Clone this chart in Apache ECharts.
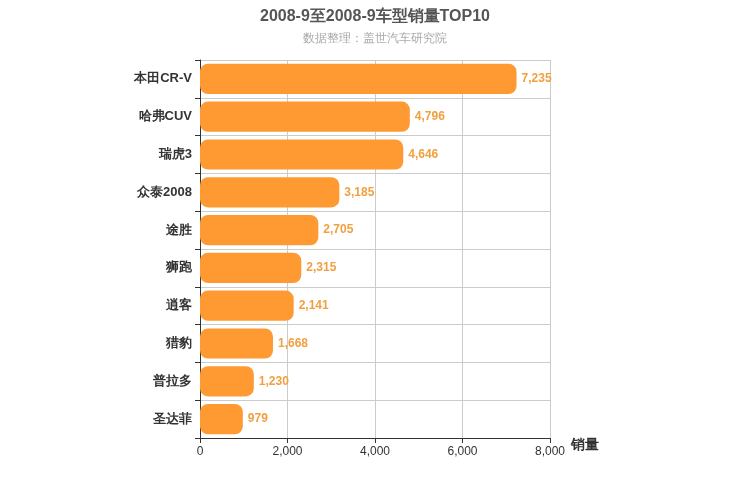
<!DOCTYPE html>
<html>
<head>
<meta charset="utf-8">
<script src="https://cdn.jsdelivr.net/npm/echarts@6/dist/echarts.min.js"></script>
</head>
<body style="margin:0">
<div id="chart" style="width:750px;height:500px"></div>
<script>
var categories = ['本田CR-V', '哈弗CUV', '瑞虎3', '众泰2008', '途胜', '狮跑', '逍客', '猎豹', '普拉多', '圣达菲'];
var sales = [7235, 4796, 4646, 3185, 2705, 2315, 2141, 1668, 1230, 979];

var chart = echarts.init(document.getElementById('chart'));
var option = {
    title: {
        text: '2008-9至2008-9车型销量TOP10',
        subtext: '数据整理：盖世汽车研究院',
        left: 'center',
        top: 4,
        itemGap: 8,
        textStyle: { fontSize: 16, fontWeight: 'bold', color: '#555' },
        subtextStyle: { fontSize: 12, color: '#aaa' }
    },
    grid: { left: 200, right: 200, top: 60, bottom: 62 },
    xAxis: {
        type: 'value',
        min: 0,
        max: 8000,
        interval: 2000,
        name: '销量',
        nameGap: 14,
        nameTextStyle: { fontSize: 14, fontWeight: 'bold', color: '#333', verticalAlign: 'top', padding: [0, 0, 0, 0] },
        axisLine: { show: true, lineStyle: { color: '#333' } },
        axisTick: { show: true },
        axisLabel: { color: '#333' },
        splitLine: { lineStyle: { color: '#ccc' } }
    },
    yAxis: {
        type: 'category',
        data: categories,
        inverse: true,
        axisLine: { lineStyle: { color: '#333' } },
        axisTick: { show: true },
        axisLabel: { fontSize: 13, fontWeight: 'bold', color: '#333' },
        splitLine: { show: true, lineStyle: { color: '#ccc' } }
    },
    series: [{
        type: 'bar',
        data: sales,
        barWidth: '80%',
        itemStyle: { color: '#ff9a33', borderRadius: 8 },
        label: {
            show: true,
            position: 'right',
            color: '#f0a040',
            fontWeight: 'bold',
            formatter: function (p) { return p.value.toLocaleString('en-US'); }
        }
    }]
};
chart.setOption(option);
</script>
</body>
</html>
